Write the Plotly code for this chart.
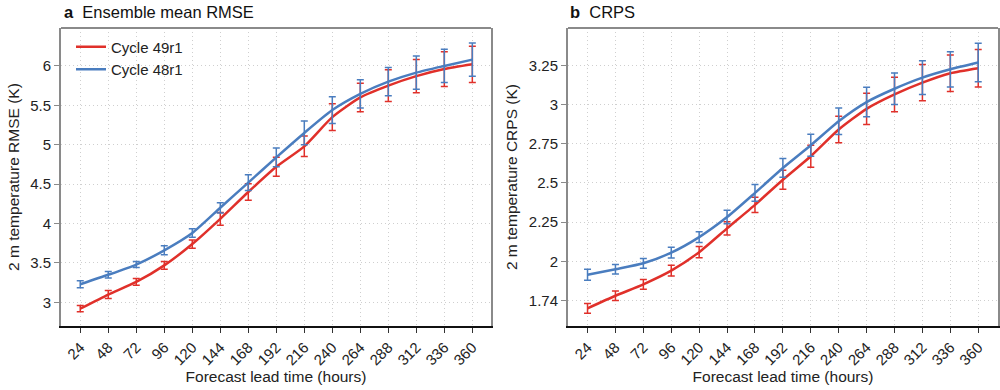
import plotly.graph_objects as go

hours = [24, 48, 72, 96, 120, 144, 168, 192, 216, 240, 264, 288, 312, 336, 360]
tick_labels = [str(h) for h in hours]

# Panel a: Ensemble mean RMSE (K)
rmse_49r1 = [2.92, 3.10, 3.26, 3.47, 3.74, 4.06, 4.40, 4.72, 4.98, 5.35, 5.60, 5.75, 5.87, 5.96, 6.02]
rmse_49r1_err = [0.04, 0.05, 0.044, 0.05, 0.053, 0.08, 0.105, 0.12, 0.13, 0.17, 0.18, 0.20, 0.21, 0.22, 0.23]
rmse_48r1 = [3.23, 3.35, 3.48, 3.66, 3.88, 4.20, 4.52, 4.84, 5.15, 5.44, 5.645, 5.80, 5.915, 6.00, 6.08]
rmse_48r1_err = [0.045, 0.042, 0.038, 0.057, 0.053, 0.065, 0.10, 0.12, 0.15, 0.17, 0.18, 0.18, 0.21, 0.21, 0.21]

# Panel b: CRPS (K)
crps_49r1 = [1.70, 1.78, 1.853, 1.94, 2.058, 2.21, 2.36, 2.52, 2.67, 2.84, 2.972, 3.064, 3.139, 3.199, 3.231]
crps_49r1_err = [0.031, 0.03, 0.031, 0.034, 0.036, 0.042, 0.049, 0.06, 0.07, 0.085, 0.10, 0.11, 0.116, 0.117, 0.12]
crps_48r1 = [1.914, 1.949, 1.987, 2.055, 2.154, 2.282, 2.436, 2.595, 2.74, 2.893, 3.015, 3.10, 3.171, 3.224, 3.267]
crps_48r1_err = [0.035, 0.03, 0.031, 0.034, 0.035, 0.043, 0.053, 0.06, 0.07, 0.085, 0.094, 0.10, 0.107, 0.112, 0.123]

crps_tickvals = [1.75, 2.0, 2.25, 2.5, 2.75, 3.0, 3.25]
crps_ticktext = ["1.74", "2", "2.25", "2.5", "2.75", "3", "3.25"]

RED = "#e0302a"
BLUE = "#4a7dbf"
FONT = "Liberation Sans, Arial, sans-serif"

fig = go.Figure()

def add(x, y, err, color, name, xa, ya, show):
    fig.add_trace(go.Scatter(
        x=x, y=y, mode="lines", name=name, showlegend=show, legendgroup=name,
        line=dict(color=color, width=2.5, shape="spline", smoothing=0.6),
        error_y=dict(type="data", array=err, visible=True, color=color,
                     thickness=1.5, width=3.5),
        xaxis=xa, yaxis=ya))

add(hours, rmse_49r1, rmse_49r1_err, RED, "Cycle 49r1", "x", "y", True)
add(hours, rmse_48r1, rmse_48r1_err, BLUE, "Cycle 48r1", "x", "y", True)
add(hours, crps_49r1, crps_49r1_err, RED, "Cycle 49r1", "x2", "y2", False)
add(hours, crps_48r1, crps_48r1_err, BLUE, "Cycle 48r1", "x2", "y2", False)

GRID = dict(showgrid=True, gridcolor="#cfcfcf", griddash="1px,3px", gridwidth=1)

xcommon = dict(
    tickvals=hours, ticktext=tick_labels, tickangle=-45,
    showline=True, linecolor="#111111", linewidth=1.5,
    ticks="outside", ticklen=5, tickcolor="#333333", tickwidth=1,
    zeroline=False, tickfont=dict(size=15, color="#222222"),
    title=dict(text="Forecast lead time (hours)", font=dict(size=15.5, color="#222222"), standoff=4),
    **GRID,
)
ycommon = dict(
    showline=True, linecolor="#8a8a8a", linewidth=2, mirror=True,
    ticks="outside", ticklen=5, tickcolor="#8a8a8a", tickwidth=1,
    zeroline=False, tickfont=dict(size=15, color="#222222"),
    **GRID,
)

fig.update_layout(
    width=1000, height=390,
    margin=dict(l=0, r=0, t=0, b=0),
    paper_bgcolor="white", plot_bgcolor="white",
    font=dict(family=FONT, color="#222222"),
    xaxis=dict(domain=[0.061, 0.491], range=[7.5, 376], anchor="y", **xcommon),
    xaxis2=dict(domain=[0.568, 0.998], range=[7.2, 377], anchor="y2", **xcommon),
    yaxis=dict(domain=[0.164, 0.928], range=[2.70, 6.48], anchor="x",
               tickvals=[3, 3.5, 4, 4.5, 5, 5.5, 6], ticktext=["3", "3.5", "4", "4.5", "5", "5.5", "6"],
               title=dict(text="2 m temperature RMSE (K)", font=dict(size=15.5, color="#222222"), standoff=7),
               **ycommon),
    yaxis2=dict(domain=[0.164, 0.928], range=[1.587, 3.487], anchor="x2",
                tickvals=crps_tickvals, ticktext=crps_ticktext,
                title=dict(text="2 m temperature CRPS (K)", font=dict(size=15.5, color="#222222"), standoff=7),
                **ycommon),
    legend=dict(x=0.071, y=0.922, xanchor="left", yanchor="top",
                bgcolor="rgba(0,0,0,0)", font=dict(size=15, color="#222222"),
                tracegroupgap=0, itemwidth=30),
    annotations=[
        dict(text="<b>a</b>  Ensemble mean RMSE", x=0.062, y=1 - 12 / 390, xref="paper", yref="paper",
             xanchor="left", yanchor="middle", showarrow=False, font=dict(size=16.5, color="#111111")),
        dict(text="<b>b</b>  CRPS", x=0.568, y=1 - 12 / 390, xref="paper", yref="paper",
             xanchor="left", yanchor="middle", showarrow=False, font=dict(size=16.5, color="#111111")),
    ],
    shapes=[
        dict(type="line", xref="x domain", yref="y domain", x0=0, x1=1, y0=1, y1=1,
             line=dict(color="#8a8a8a", width=2)),
        dict(type="line", xref="x2 domain", yref="y2 domain", x0=0, x1=1, y0=1, y1=1,
             line=dict(color="#8a8a8a", width=2)),
    ],
)

fig.write_html("out.html", config={"displayModeBar": False},
               post_script="document.body.style.margin='0';document.body.style.overflow='hidden';")
